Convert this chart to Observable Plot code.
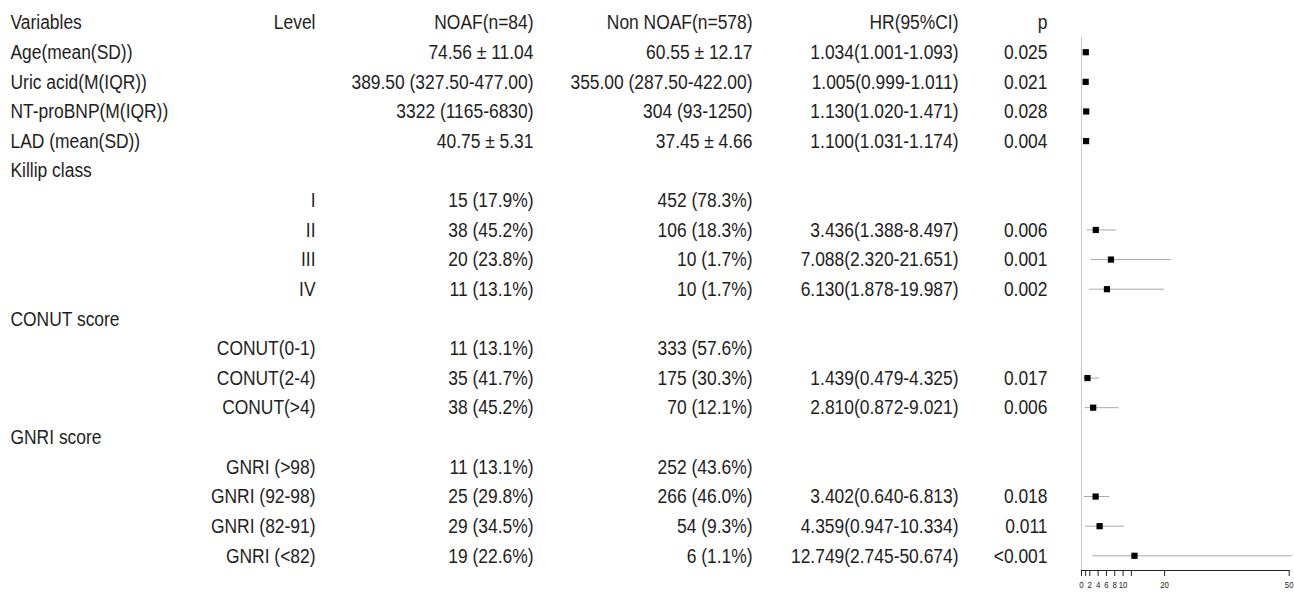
<!DOCTYPE html>
<html>
<head>
<meta charset="utf-8">
<script src="https://cdn.jsdelivr.net/npm/d3@7"></script>
<script src="https://cdn.jsdelivr.net/npm/@observablehq/plot@0.6"></script>
<style>
  html, body { margin: 0; padding: 0; background: #fff; }
  #wrap { position: relative; width: 1294px; height: 595px; overflow: hidden; }
  #wrap svg { position: absolute; left: 0; top: 0; }
</style>
</head>
<body>
<div id="wrap"></div>
<script>
// ---------- data ----------
const variables = ["Variables","Age(mean(SD))","Uric acid(M(IQR))","NT-proBNP(M(IQR))","LAD (mean(SD))","Killip class","","","","","CONUT score","","","","GNRI score","","","",""];
const levels = ["Level","","","","","","I","II","III","IV","","CONUT(0-1)","CONUT(2-4)","CONUT(>4)","","GNRI (>98)","GNRI (92-98)","GNRI (82-91)","GNRI (<82)"];
const noaf = ["NOAF(n=84)","74.56 ± 11.04","389.50 (327.50-477.00)","3322 (1165-6830)","40.75 ± 5.31","","15 (17.9%)","38 (45.2%)","20 (23.8%)","11 (13.1%)","","11 (13.1%)","35 (41.7%)","38 (45.2%)","","11 (13.1%)","25 (29.8%)","29 (34.5%)","19 (22.6%)"];
const nonNoaf = ["Non NOAF(n=578)","60.55 ± 12.17","355.00 (287.50-422.00)","304 (93-1250)","37.45 ± 4.66","","452 (78.3%)","106 (18.3%)","10 (1.7%)","10 (1.7%)","","333 (57.6%)","175 (30.3%)","70 (12.1%)","","252 (43.6%)","266 (46.0%)","54 (9.3%)","6 (1.1%)"];
const hrText = ["HR(95%CI)","1.034(1.001-1.093)","1.005(0.999-1.011)","1.130(1.020-1.471)","1.100(1.031-1.174)","","","3.436(1.388-8.497)","7.088(2.320-21.651)","6.130(1.878-19.987)","","","1.439(0.479-4.325)","2.810(0.872-9.021)","","","3.402(0.640-6.813)","4.359(0.947-10.334)","12.749(2.745-50.674)"];
const pText = ["p","0.025","0.021","0.028","0.004","","","0.006","0.001","0.002","","","0.017","0.006","","","0.018","0.011","<0.001"];
const hr    = [null,1.034,1.005,1.130,1.100,null,null,3.436,7.088,6.130,null,null,1.439,2.810,null,null,3.402,4.359,12.749];
const lower = [null,1.001,0.999,1.020,1.031,null,null,1.388,2.320,1.878,null,null,0.479,0.872,null,null,0.640,0.947,2.745];
const upper = [null,1.093,1.011,1.471,1.174,null,null,8.497,21.651,19.987,null,null,4.325,9.021,null,null,6.813,10.334,50.674];
const tickValues = [0,1,2,4,6,8,10,12,20,50];
const tickLabels = ["0","","2","4","6","8","10","","20","50"];

// ---------- layout ----------
const W = 1294, H = 595;
const FONT = "'Liberation Sans Narrow','Arial Narrow','Liberation Sans',Arial,sans-serif";
const NARROW = 0.83; // horizontal condensing to mimic a narrow face
const COL = {variables: 10, level: 315, noaf: 533, non: 752, hr: 958, p: 1047};
const rows = d3.range(variables.length);
const yScale = {domain: [0, rows.length - 1], range: [22.1, 555.3], axis: null};

const textOpts = {fontSize: 21, fill: "#1e1e1e", fontFamily: FONT};
const col = (arr, key, anchor) => Plot.text(rows.filter(i => arr[i] !== ""), {
  x: () => COL[key], y: i => i, text: i => arr[i], textAnchor: anchor, ...textOpts
});

const table = Plot.plot({
  width: W, height: H, margin: 0,
  style: {fontFamily: FONT, background: "transparent"},
  x: {type: "identity", axis: null},
  y: yScale,
  marks: [
    col(variables, "variables", "start"),
    col(levels, "level", "end"),
    col(noaf, "noaf", "end"),
    col(nonNoaf, "non", "end"),
    col(hrText, "hr", "end"),
    col(pText, "p", "end")
  ]
});

const est = rows.filter(i => hr[i] != null);

const forest = Plot.plot({
  width: W, height: H,
  marginLeft: 1081, marginRight: 5.3, marginTop: 0, marginBottom: 25,
  style: {fontFamily: FONT, background: "transparent"},
  x: {domain: [0, 50]},
  y: yScale,
  marks: [
    Plot.ruleX([0], {y1: 0.5, y2: rows.length - 0.5, stroke: "#c8c8c8", strokeWidth: 1}),
    Plot.ruleY(est, {y: i => i, x1: i => lower[i], x2: i => upper[i], stroke: "#a8a8a8", strokeWidth: 1}),
    Plot.dot(est, {x: i => hr[i], y: i => i, symbol: "square", fill: "#000", stroke: "none", r: 3.5}),
    Plot.frame({anchor: "bottom", stroke: "#222"}),
    Plot.axisX({ticks: tickValues, tickFormat: (d, k) => tickLabels[k] || null, tickSize: 6, tickPadding: 5,
                fontSize: 9.5, fill: "#222", stroke: "#222", label: null})
  ]
});

// condense text horizontally around its anchor point (keeps vertical attributes intact)
function condense(svg) {
  d3.select(svg).selectAll("text").each(function () {
    const xa = this.getAttribute("x");
    if (xa != null && isFinite(+xa)) this.setAttribute("x", (+xa) / NARROW);
    const t = this.getAttribute("transform") || "";
    this.setAttribute("transform", `${t} scale(${NARROW},1)`);
  });
}
condense(table);
condense(forest);

const wrap = document.getElementById("wrap");
wrap.appendChild(forest);
wrap.appendChild(table);
</script>
</body>
</html>
